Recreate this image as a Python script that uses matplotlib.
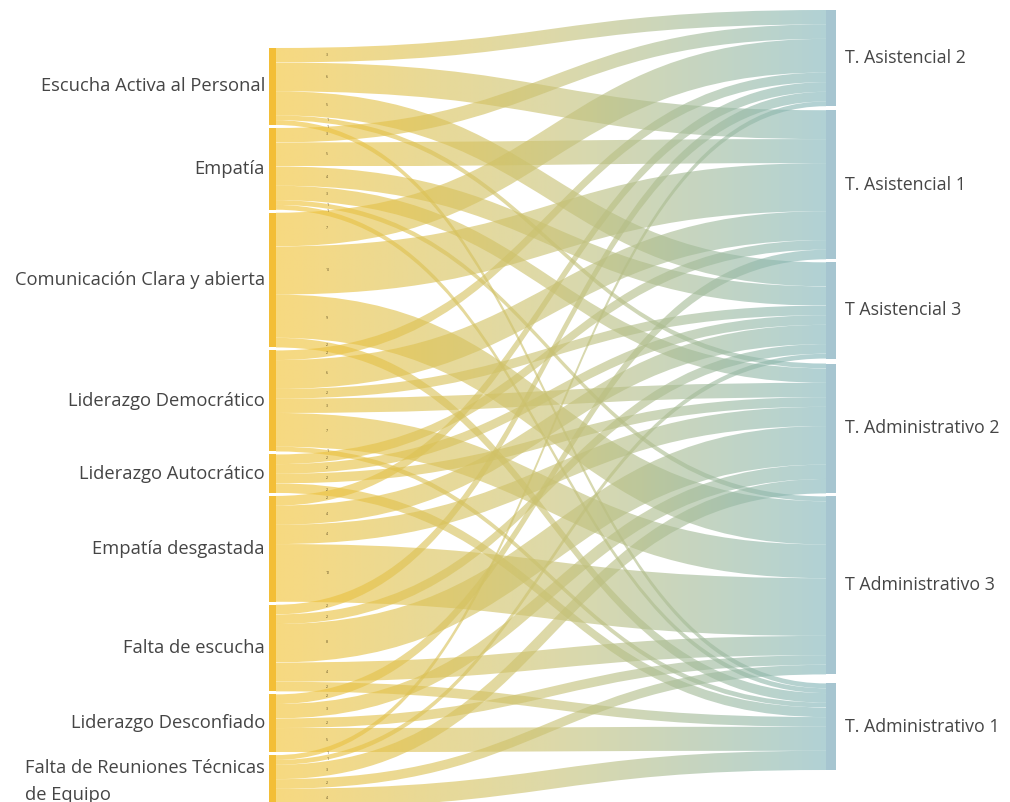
import numpy as np
import matplotlib.pyplot as plt
from matplotlib.path import Path
from matplotlib.patches import PathPatch, Rectangle
from matplotlib.colors import LinearSegmentedColormap

plt.rcParams['font.family'] = ['Open Sans', 'DejaVu Sans']

# nodos de origen (factores) y destino (grupos de trabajadores)
origenes = ["Escucha Activa al Personal", "Empatía", "Comunicación Clara y abierta",
            "Liderazgo Democrático", "Liderazgo Autocrático", "Empatía desgastada",
            "Falta de escucha", "Liderazgo Desconfiado",
            "Falta de Reuniones Técnicas\nde Equipo"]
destinos = ["T. Asistencial 2", "T. Asistencial 1", "T Asistencial 3",
            "T. Administrativo 2", "T Administrativo 3", "T. Administrativo 1"]

# frecuencias por origen, en el orden de destinos
escucha_activa = [3, 6, 5, 1, 0, 1]
empatia = [3, 5, 4, 3, 1, 1]
comunicacion = [7, 10, 0, 0, 9, 2]
lid_democratico = [2, 6, 2, 3, 7, 1]
lid_autocratico = [0, 2, 2, 2, 0, 2]
empatia_desgastada = [2, 0, 4, 4, 12, 0]
falta_escucha = [2, 0, 2, 8, 4, 2]
lid_desconfiado = [0, 2, 0, 3, 2, 5]
falta_reuniones = [1, 0, 1, 3, 2, 4]

flujos = np.array([escucha_activa, empatia, comunicacion, lid_democratico,
                   lid_autocratico, empatia_desgastada, falta_escucha,
                   lid_desconfiado, falta_reuniones], dtype=float)

# disposición en pixeles
W, H = 1010, 802
x_ini, x_fin = 276, 826
top_izq, top_der, alto = 48, 10, 760
gap_izq = [3] * (len(origenes) - 1)
gap_der = [4, 3, 5, 3, 9]

total = flujos.sum()
escala = (alto - sum(gap_izq)) / total

def posiciones(totales, top, gaps):
    y0 = []
    y = top
    for i, t in enumerate(totales):
        y0.append(y)
        y += t * escala
        if i < len(gaps):
            y += gaps[i]
    return np.array(y0)

tot_orig = flujos.sum(axis=1)
tot_dest = flujos.sum(axis=0)
y_orig = posiciones(tot_orig, top_izq, gap_izq)
y_dest = posiciones(tot_dest, top_der, gap_der)

cmap = LinearSegmentedColormap.from_list("flujo", ["#F3C233", "#C9C274", "#82B6BB"])
gradiente = np.linspace(0, 1, 256).reshape(1, -1)

fig = plt.figure(figsize=(W / 100, H / 100), dpi=100)
ax = fig.add_axes([0, 0, 1, 1])
ax.set_xlim(0, W)
ax.set_ylim(H, 0)
ax.axis('off')

# desplazamientos dentro de cada nodo
off_orig = y_orig.copy()
off_dest = y_dest.copy()
xm = (x_ini + x_fin) / 2
etiquetas = []
for i in range(len(origenes)):
    for j in range(len(destinos)):
        v = flujos[i, j]
        if v <= 0:
            continue
        h = v * escala
        s0, s1 = off_orig[i], off_orig[i] + h
        t0 = off_dest[j] + sum(flujos[:i, j]) * escala
        t1 = t0 + h
        off_orig[i] += h
        verts = [(x_ini, s0), (xm, s0), (xm, t0), (x_fin, t0),
                 (x_fin, t1), (xm, t1), (xm, s1), (x_ini, s1), (x_ini, s0)]
        codes = [Path.MOVETO, Path.CURVE4, Path.CURVE4, Path.CURVE4,
                 Path.LINETO, Path.CURVE4, Path.CURVE4, Path.CURVE4, Path.CLOSEPOLY]
        patch = PathPatch(Path(verts, codes), facecolor='none', edgecolor='none')
        ax.add_patch(patch)
        im = ax.imshow(gradiente, cmap=cmap, aspect='auto', alpha=0.62,
                       extent=(x_ini, x_fin, max(s1, t1), min(s0, t0)),
                       interpolation='bilinear', zorder=2)
        im.set_clip_path(patch)
        # posición de la etiqueta de valor sobre la curva central
        t = 0.05
        cx = (1 - t) ** 3 * x_ini + 3 * (1 - t) ** 2 * t * xm + 3 * (1 - t) * t ** 2 * xm + t ** 3 * x_fin
        ys, yt = (s0 + s1) / 2, (t0 + t1) / 2
        cy = ((1 - t) ** 3 + 3 * (1 - t) ** 2 * t) * ys + (3 * (1 - t) * t ** 2 + t ** 3) * yt
        etiquetas.append((cx + 12, cy, int(v)))

for cx, cy, v in etiquetas:
    ax.text(cx, cy, str(v), fontsize=2.5, color='#5b4a20', ha='center', va='center', zorder=5)

# barras de nodos
for i, nombre in enumerate(origenes):
    h = tot_orig[i] * escala
    ax.add_patch(Rectangle((269, y_orig[i]), x_ini - 269, h, facecolor='#F3BE37',
                           edgecolor='none', zorder=3))
    ax.text(265, y_orig[i] + h / 2, nombre, ha='right', va='center', fontsize=13.2,
            color='#454545', multialignment='left', linespacing=1.6)

for j, nombre in enumerate(destinos):
    h = tot_dest[j] * escala
    ax.add_patch(Rectangle((x_fin, y_dest[j]), 10, h, facecolor='#A6C5D0',
                           edgecolor='none', zorder=3))
    ax.text(845, y_dest[j] + h / 2, nombre, ha='left', va='center', fontsize=12.8,
            color='#454545')

fig.savefig("out.png", dpi=100)
